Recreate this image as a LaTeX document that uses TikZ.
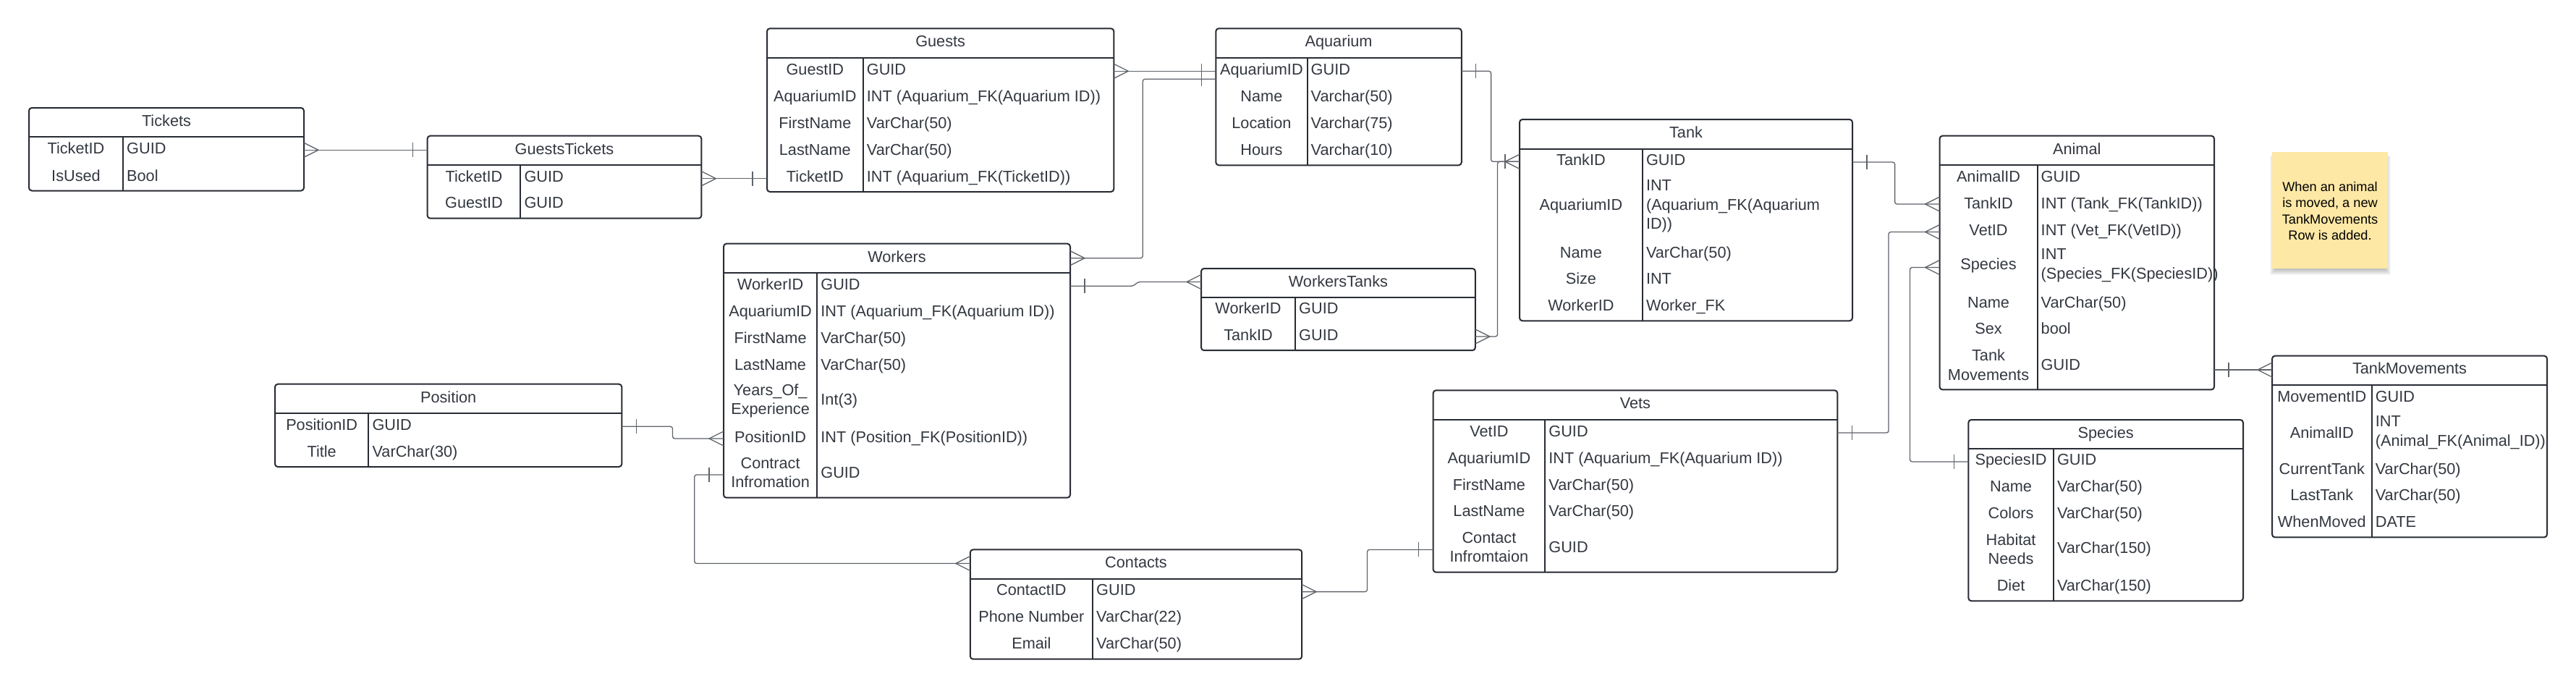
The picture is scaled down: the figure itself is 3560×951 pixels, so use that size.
\documentclass[tikz,border=0pt]{standalone}
\usepackage{fontspec}
\setmainfont{Liberation Sans}
\definecolor{bordc}{RGB}{40,44,52}
\definecolor{txtc}{RGB}{51,56,64}
\definecolor{connc}{RGB}{95,99,106}
\definecolor{notec}{RGB}{253,232,166}
\newcommand\tfont{\fontsize{21.7}{26.7}\selectfont}
\newcommand\etable[8]{%
  \node[tbox, anchor=north west, minimum width={(#4-#2)*1pt}, minimum height={(#5-#3)*1pt}] (#1) at (#2,#3) {};
  \draw[tline] (#2,#6) -- (#4,#6);
  \draw[tline] (#7,#6) -- (#7,#5);
  \node[cell] (#1-title) at ({(#2+#4)/2},{(#3+#6)/2+5.3}) {#8};
  \gdef\tkx{(#2+#7)/2}\gdef\tdx{#7}}
\newcommand\erow[4]{%
  \node[cell] (#1k) at ({\tkx},{#2+7.8}) {#3};
  \node[cell, anchor=base west] (#1v) at ({\tdx+5},{#2+7.8}) {#4};}
\newcommand\erowm[4]{%
  \node[mcell] (#1k) at ({\tkx},{#2}) {#3};
  \node[mcell, align=left, anchor=west] (#1v) at ({\tdx+5},{#2}) {#4};}
\newcommand\crowR[1]{\draw[mk] (#1) ++(0,-10) -- ++(20,10) -- ++(-20,10);}
\newcommand\crowL[1]{\draw[mk] (#1) ++(0,-10) -- ++(-20,10) -- ++(20,10);}
\newcommand\barR[1]{\draw[mk] (#1) ++(20,-10) -- ++(0,20);}
\newcommand\barL[1]{\draw[mk] (#1) ++(-20,-10) -- ++(0,20);}
\tikzset{
  tbox/.style={rectangle, draw=bordc, line width=2pt, rounded corners=4pt, fill=white, inner sep=0pt, outer sep=0pt},
  tline/.style={draw=bordc, line width=2pt},
  cell/.style={font=\tfont, text=txtc, inner sep=0pt, anchor=base},
  mcell/.style={font=\tfont, text=txtc, inner sep=0pt, align=center, anchor=center},
  conn/.style={draw=connc, line width=1.3pt, rounded corners=3pt},
  mk/.style={draw=connc, line width=1.3pt},
  notebox/.style={rectangle, fill=notec, draw=none, inner sep=0pt, outer sep=0pt},
  shade/.style={fill=black, opacity=0.03},
}
\begin{document}
\begin{tikzpicture}[x=1pt, y=-1pt]
\fill[white] (0,0) rectangle (3560,951);
\useasboundingbox (0,0) rectangle (3560,951);

% ---------- tables ----------
\etable{tickets}{40}{149}{420}{263.5}{189}{170}{Tickets}
\erow{tk1}{205}{TicketID}{GUID}
\erow{tk2}{242.3}{IsUsed}{Bool}

\etable{gt}{590.6}{187.7}{969.4}{301.7}{228}{719.4}{GuestsTickets}
\erow{gt1}{243.3}{TicketID}{GUID}
\erow{gt2}{280}{GuestID}{GUID}

\etable{guests}{1060}{39.3}{1539.3}{265}{80}{1192.7}{Guests}
\erow{gu1}{96}{GuestID}{GUID}
\erow{gu2}{132.7}{AquariumID}{INT (Aquarium\_FK(Aquarium ID))}
\erow{gu3}{170}{FirstName}{VarChar(50)}
\erow{gu4}{206.7}{LastName}{VarChar(50)}
\erow{gu5}{244}{TicketID}{INT (Aquarium\_FK(TicketID))}

\etable{aqua}{1680.3}{39.3}{2019.8}{228.3}{80}{1806.5}{Aquarium}
\erow{aq1}{96}{AquariumID}{GUID}
\erow{aq2}{132.7}{Name}{Varchar(50)}
\erow{aq3}{170}{Location}{Varchar(75)}
\erow{aq4}{206.7}{Hours}{Varchar(10)}

\etable{tank}{2100}{165}{2560}{443.3}{206}{2269.8}{Tank}
\erow{ta1}{221}{TankID}{GUID}
\erowm{ta2}{285}{AquariumID}{INT\\(Aquarium\_FK(Aquarium\\ID))}
\erow{ta3}{348.3}{Name}{VarChar(50)}
\erow{ta4}{385}{Size}{INT}
\erow{ta5}{421.7}{WorkerID}{Worker\_FK}

\etable{animal}{2680.5}{187.7}{3060}{538.4}{228}{2815.5}{Animal}
\erow{an1}{243.3}{AnimalID}{GUID}
\erow{an2}{280.2}{TankID}{INT (Tank\_FK(TankID))}
\erow{an3}{317.2}{VetID}{INT (Vet\_FK(VetID))}
\erowm{an4}{367}{Species}{INT\\(Species\_FK(SpeciesID))}
\erow{an5}{417.3}{Name}{VarChar(50)}
\erow{an6}{454}{Sex}{bool}
\erowm{an7}{504.3}{Tank\\Movements}{GUID}

\etable{tm}{3140}{491.7}{3520}{742.4}{531.6}{3277.6}{TankMovements}
\erow{tm1}{548}{MovementID}{GUID}
\erowm{tm2}{597.8}{AnimalID}{INT\\(Animal\_FK(Animal\_ID))}
\erow{tm3}{647.5}{CurrentTank}{VarChar(50)}
\erow{tm4}{684}{LastTank}{VarChar(50)}
\erow{tm5}{721}{WhenMoved}{DATE}

\etable{species}{2720.3}{580}{3100}{830.3}{620.2}{2837.8}{Species}
\erow{sp1}{635}{SpeciesID}{GUID}
\erow{sp2}{672}{Name}{VarChar(50)}
\erow{sp3}{709}{Colors}{VarChar(50)}
\erowm{sp4}{758.7}{Habitat\\Needs}{VarChar(150)}
\erow{sp5}{809}{Diet}{VarChar(150)}

\etable{vets}{1980.6}{539.3}{2539.3}{790.7}{580}{2135.2}{Vets}
\erow{ve1}{596}{VetID}{GUID}
\erow{ve2}{632.3}{AquariumID}{INT (Aquarium\_FK(Aquarium ID))}
\erow{ve3}{669.3}{FirstName}{VarChar(50)}
\erow{ve4}{706}{LastName}{VarChar(50)}
\erowm{ve5}{756}{Contact\\Infromtaion}{GUID}

\etable{contacts}{1340.8}{759.4}{1799.2}{910.7}{799.6}{1510}{Contacts}
\erow{co1}{815}{ContactID}{GUID}
\erow{co2}{852}{Phone Number}{VarChar(22)}
\erow{co3}{888.5}{Email}{VarChar(50)}

\etable{wt}{1660}{371}{2038.8}{484.2}{410.6}{1790}{WorkersTanks}
\erow{wt1}{425.5}{WorkerID}{GUID}
\erow{wt2}{463}{TankID}{GUID}

\etable{workers}{1000}{336.7}{1479}{687.7}{376.7}{1129.2}{Workers}
\erow{wo1}{392.7}{WorkerID}{GUID}
\erow{wo2}{429.3}{AquariumID}{INT (Aquarium\_FK(Aquarium ID))}
\erow{wo3}{466.7}{FirstName}{VarChar(50)}
\erow{wo4}{503.3}{LastName}{VarChar(50)}
\erowm{wo5}{554}{Years\_Of\_\\Experience}{Int(3)}
\erow{wo6}{604}{PositionID}{INT (Position\_FK(PositionID))}
\erowm{wo7}{653}{Contract\\Infromation}{GUID}

\etable{position}{380}{530.7}{859.3}{645}{570.7}{509.4}{Position}
\erow{po1}{586.7}{PositionID}{GUID}
\erow{po2}{623.3}{Title}{VarChar(30)}

% ---------- sticky note (soft shadow, then the note) ----------
\foreach \i in {1,...,8}{
  \fill[shade] ({3140+\i-4},{214+\i*0.6}) rectangle ({3300-\i+5},{371+10-\i});
}
\node[notebox, anchor=north west, minimum width=160pt, minimum height=161pt] (note) at (3140,210) {};
\node[font=\fontsize{18.2}{22.5}\selectfont, text=black, align=center, inner sep=0pt] (notetext) at ([yshift=-0.8pt]note.center) {When an animal\\is moved, a new\\TankMovements\\Row is added.};

% ---------- connectors ----------
\draw[conn] (tickets.east |- 0,207.3) -- (gt.west |- 0,207.3);
\crowR{tickets.east |- 0,207.3}
\barL{gt.west |- 0,207.3}

\draw[conn] (gt.east |- 0,246.7) -- (guests.west |- 0,246.7);
\crowR{gt.east |- 0,246.7}
\barL{guests.west |- 0,246.7}

\draw[conn] (guests.east |- 0,98.3) -- (aqua.west |- 0,98.3);
\crowR{guests.east |- 0,98.3}
\barL{aqua.west |- 0,98.3}

\draw[conn] (workers.east |- 0,356.7) -- (1579.3,356.7) -- (1579.3,109.3) -- (aqua.west |- 0,109.3);
\crowR{workers.east |- 0,356.7}
\barL{aqua.west |- 0,109.3}

\draw[conn] (aqua.east |- 0,98.3) -- (2060.6,98.3) -- (2060.6,223.3) -- (tank.west |- 0,223.3);
\barR{aqua.east |- 0,98.3}
\crowL{tank.west |- 0,223.3}

\draw[conn] (wt.east |- 0,465) -- (2069.5,465) -- (2069.5,223.3) -- (tank.west |- 0,223.3);
\crowR{wt.east |- 0,465}
\barL{tank.west |- 0,223.3}

\draw[conn] (tank.east |- 0,224) -- (2618.6,224) -- (2618.6,282) -- (animal.west |- 0,282);
\barR{tank.east |- 0,224}
\crowL{animal.west |- 0,282}

\draw[conn] (vets.east |- 0,598) -- (2610,598) -- (2610,320.5) -- (animal.west |- 0,320.5);
\barR{vets.east |- 0,598}
\crowL{animal.west |- 0,320.5}

\draw[conn] (species.west |- 0,638) -- (2639.5,638) -- (2639.5,369.5) -- (animal.west |- 0,369.5);
\barL{species.west |- 0,638}
\crowL{animal.west |- 0,369.5}

\draw[conn] (animal.east |- 0,511) -- (tm.west |- 0,511);
\barR{animal.east |- 0,511}
\crowL{tm.west |- 0,511}

\draw[conn] (workers.east |- 0,395.2) -- (1566,395.2) -- (1573,389.5) -- (wt.west |- 0,389.5);
\barR{workers.east |- 0,395.2}
\crowL{wt.west |- 0,389.5}

\draw[conn] (position.east |- 0,589.3) -- (929.5,589.3) -- (929.5,606) -- (workers.west |- 0,606);
\barR{position.east |- 0,589.3}
\crowL{workers.west |- 0,606}

\draw[conn] (workers.west |- 0,656) -- (959.7,656) -- (959.7,778.5) -- (contacts.west |- 0,778.5);
\barL{workers.west |- 0,656}
\crowL{contacts.west |- 0,778.5}

\draw[conn] (contacts.east |- 0,817.6) -- (1889.5,817.6) -- (1889.5,759.4) -- (vets.west |- 0,759.4);
\crowR{contacts.east |- 0,817.6}
\barL{vets.west |- 0,759.4}
\end{tikzpicture}
\end{document}
